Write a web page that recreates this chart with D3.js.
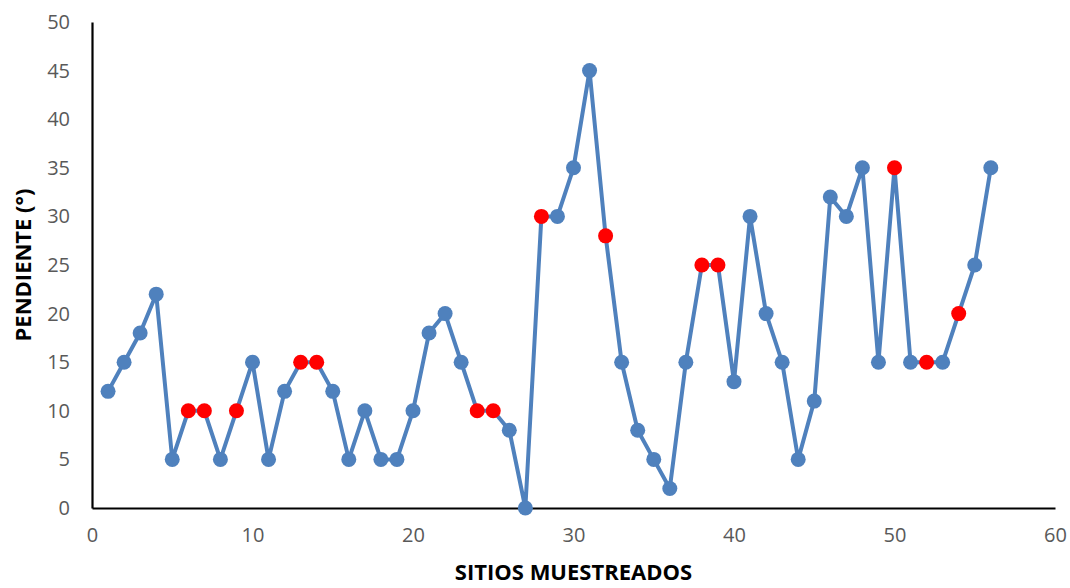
<!DOCTYPE html>
<html>
<head>
<meta charset="utf-8">
<script src="https://cdn.jsdelivr.net/npm/d3@7"></script>
<style>
  html, body { margin: 0; padding: 0; background: #fff; }
  svg { display: block; }
  text { font-family: "Open Sans", "Liberation Sans", sans-serif; }
</style>
</head>
<body>
<svg id="chart" width="1070" height="588"></svg>
<script>
// Slope (degrees) per sampled site
const sites = d3.range(1, 57);
const slopes = [12, 15, 18, 22, 5, 10, 10, 5, 10, 15,
                5, 12, 15, 15, 12, 5, 10, 5, 5, 10,
                18, 20, 15, 10, 10, 8, 0, 30, 30, 35,
                45, 28, 15, 8, 5, 2, 15, 25, 25, 13,
                30, 20, 15, 5, 11, 32, 30, 35, 15, 35,
                15, 15, 15, 20, 25, 35];
// Sites highlighted in red
const highlighted = [6, 7, 9, 13, 14, 24, 25, 28, 32, 38, 39, 50, 52, 54];
const xTicks = [0, 10, 20, 30, 40, 50, 60];
const yTicks = [0, 5, 10, 15, 20, 25, 30, 35, 40, 45, 50];

const data = sites.map((s, i) => ({ site: s, value: slopes[i], hot: highlighted.includes(s) }));

const svg = d3.select("#chart");
const plot = { left: 92, right: 1055, top: 22, bottom: 508 };

const x = d3.scaleLinear().domain([0, 60]).range([plot.left, plot.right]);
const y = d3.scaleLinear().domain([0, 50]).range([plot.bottom, plot.top]);

// Axes: plain black lines, no tick marks
const xAxis = svg.append("g").attr("transform", `translate(0,${plot.bottom})`)
  .call(d3.axisBottom(x).tickValues(xTicks).tickSize(0).tickPadding(20));
const yAxis = svg.append("g").attr("transform", `translate(${plot.left},0)`)
  .call(d3.axisLeft(y).tickValues(yTicks).tickSize(0).tickPadding(22));
[xAxis, yAxis].forEach(g => {
  g.select(".domain").attr("stroke", "#000").attr("stroke-width", 2.2);
  g.selectAll("text").attr("fill", "#595959").style("font-size", "20px")
    .style("font-family", "'Open Sans', 'Liberation Sans', sans-serif");
});

// Series line
svg.append("path").datum(data)
  .attr("fill", "none")
  .attr("stroke", "#4F81BD")
  .attr("stroke-width", 4)
  .attr("stroke-linejoin", "round")
  .attr("d", d3.line().x(d => x(d.site)).y(d => y(d.value)));

// Markers
svg.append("g").selectAll("circle").data(data).join("circle")
  .attr("cx", d => x(d.site))
  .attr("cy", d => y(d.value))
  .attr("r", 7.5)
  .attr("fill", d => d.hot ? "#FF0000" : "#4F81BD");

// Axis titles
svg.append("text")
  .attr("x", (plot.left + plot.right) / 2).attr("y", 580)
  .attr("text-anchor", "middle")
  .style("font-size", "22px").style("font-weight", "bold")
  .attr("fill", "#000")
  .text("SITIOS MUESTREADOS");

svg.append("text")
  .attr("transform", `translate(31,${(plot.top + plot.bottom) / 2}) rotate(-90)`)
  .attr("text-anchor", "middle")
  .style("font-size", "22px").style("font-weight", "bold")
  .attr("fill", "#000")
  .text("PENDIENTE (°)");
</script>
</body>
</html>
